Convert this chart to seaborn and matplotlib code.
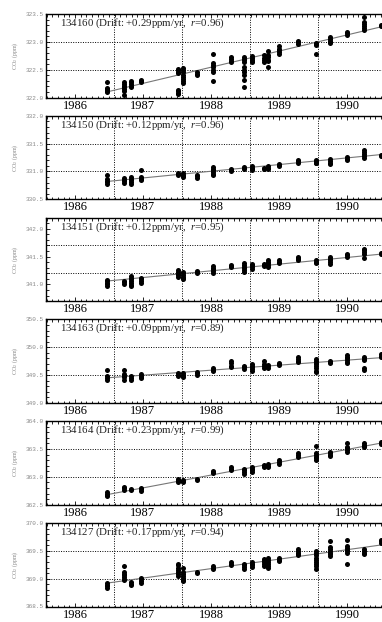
import numpy as np
import pandas as pd
import matplotlib
matplotlib.use("Agg")
import matplotlib.pyplot as plt
from matplotlib.ticker import MultipleLocator, FixedLocator, FormatStrFormatter
import seaborn as sns

sns.set_theme(style="ticks")
plt.rcParams['font.family'] = ['Liberation Serif', 'DejaVu Serif']
plt.rcParams['mathtext.fontset'] = 'custom'
plt.rcParams['mathtext.rm'] = 'Liberation Serif'
plt.rcParams['mathtext.it'] = 'Liberation Serif:italic'

# Sampling dates (decimal years), shared by all cylinders
sample_dates = [1986.47, 1986.72, 1986.82, 1986.97, 1987.52, 1987.59, 1987.80,
                1988.03, 1988.30, 1988.49, 1988.60, 1988.78, 1988.84, 1989.00,
                1989.28, 1989.55, 1989.75, 1990.00, 1990.25, 1990.50]
year_ticks = [1986, 1987, 1988, 1989, 1990]

cylinders = ["134160", "134150", "134151", "134163", "134164", "134127"]
drift = [0.29, 0.12, 0.12, 0.09, 0.23, 0.17]
corr_r = [0.96, 0.96, 0.95, 0.89, 0.99, 0.94]
fit_start = [322.10, 330.82, 341.06, 349.45, 362.68, 368.92]
y_lower = [322.0, 330.5, 340.7, 349.0, 362.5, 368.5]

co2_134160 = [
    [322.27, 322.17, 322.15, 322.13, 322.11, 322.09],
    [322.28, 322.24, 322.21, 322.18, 322.15, 322.12, 322.05],
    [322.30, 322.27, 322.24, 322.21, 322.18],
    [322.32, 322.30, 322.28],
    [322.52, 322.49, 322.46, 322.44, 322.14, 322.11, 322.08, 322.06],
    [322.53, 322.49, 322.45, 322.41, 322.37, 322.33, 322.29, 322.26],
    [322.45, 322.42, 322.40],
    [322.78, 322.62, 322.58, 322.54, 322.50, 322.46, 322.29],
    [322.72, 322.69, 322.66, 322.63],
    [322.73, 322.70, 322.67, 322.63, 322.55, 322.50, 322.46, 322.41, 322.31, 322.19],
    [322.74, 322.71, 322.68, 322.65, 322.63],
    [322.76, 322.71, 322.67, 322.64],
    [322.83, 322.76, 322.72, 322.68, 322.65, 322.55],
    [322.92, 322.88, 322.85, 322.82, 322.79],
    [323.02, 322.99, 322.96],
    [322.98, 322.96, 322.94, 322.79],
    [323.08, 323.05, 323.02, 323.00, 322.98],
    [323.17, 323.15, 323.13],
    [323.45, 323.36, 323.32, 323.28, 323.25, 323.21],
    [323.30, 323.28],
]
co2_134150 = [
    [330.94, 330.86, 330.83, 330.81, 330.78],
    [330.88, 330.85, 330.82, 330.80],
    [330.90, 330.87, 330.84, 330.81, 330.78],
    [331.02, 330.90, 330.87, 330.85],
    [330.98, 330.96, 330.94],
    [330.97, 330.94, 330.92, 330.90],
    [330.94, 330.91, 330.88],
    [331.08, 331.05, 331.02, 330.99, 330.96, 330.93],
    [331.05, 331.03, 331.00],
    [331.08, 331.06, 331.04],
    [331.10, 331.07, 331.05, 331.03],
    [331.06, 331.04],
    [331.10, 331.07, 331.04],
    [331.14, 331.12, 331.10],
    [331.21, 331.18, 331.16],
    [331.20, 331.18, 331.16, 331.15],
    [331.22, 331.19, 331.16, 331.13],
    [331.26, 331.23, 331.20],
    [331.38, 331.35, 331.32, 331.27, 331.25],
    [331.30, 331.27],
]
co2_134151 = [
    [341.08, 341.06, 341.03, 341.00, 340.98],
    [341.07, 341.04, 341.01],
    [341.15, 341.12, 341.09, 341.06, 341.03, 340.99, 340.97],
    [341.12, 341.09, 341.06, 341.03],
    [341.25, 341.22, 341.19, 341.16, 341.14],
    [341.23, 341.20, 341.17, 341.14, 341.11, 341.09],
    [341.24, 341.22, 341.20],
    [341.33, 341.30, 341.27, 341.24, 341.21],
    [341.35, 341.33, 341.31],
    [341.38, 341.35, 341.32, 341.29, 341.26, 341.22],
    [341.37, 341.34, 341.31, 341.28],
    [341.37, 341.35, 341.33],
    [341.44, 341.41, 341.38, 341.35, 341.31],
    [341.43, 341.41, 341.39],
    [341.50, 341.47, 341.45, 341.43],
    [341.44, 341.41, 341.38],
    [341.49, 341.46, 341.43, 341.40, 341.37],
    [341.55, 341.52, 341.49],
    [341.64, 341.61, 341.58, 341.55, 341.47],
    [341.57, 341.54],
]
co2_134163 = [
    [349.60, 349.48, 349.45, 349.42],
    [349.60, 349.52, 349.49, 349.46, 349.42],
    [349.48, 349.45, 349.42],
    [349.52, 349.49, 349.46, 349.44],
    [349.53, 349.51, 349.49],
    [349.54, 349.51, 349.48, 349.46],
    [349.56, 349.53, 349.51],
    [349.63, 349.60, 349.57],
    [349.75, 349.72, 349.67, 349.65],
    [349.67, 349.64, 349.61],
    [349.70, 349.67, 349.64, 349.61, 349.58],
    [349.75, 349.70, 349.66, 349.63],
    [349.68, 349.66, 349.63],
    [349.72, 349.70, 349.68],
    [349.82, 349.79, 349.76, 349.74],
    [349.78, 349.75, 349.72, 349.69, 349.66, 349.62, 349.58, 349.55],
    [349.75, 349.73, 349.71],
    [349.86, 349.83, 349.80, 349.77, 349.74, 349.72],
    [349.82, 349.79, 349.77, 349.62, 349.59],
    [349.88, 349.85, 349.82],
]
co2_134164 = [
    [362.72, 362.70, 362.68, 362.65],
    [362.82, 362.80, 362.77],
    [362.78, 362.76],
    [362.80, 362.78, 362.75],
    [362.97, 362.95, 362.93, 362.91],
    [362.95, 362.92, 362.90],
    [362.96, 362.94],
    [363.11, 363.09, 363.07],
    [363.17, 363.15, 363.13],
    [363.15, 363.12, 363.09, 363.06],
    [363.18, 363.15, 363.12, 363.09],
    [363.22, 363.20, 363.17],
    [363.23, 363.20, 363.18],
    [363.30, 363.27, 363.24],
    [363.42, 363.39, 363.36],
    [363.55, 363.42, 363.39, 363.36, 363.33, 363.31],
    [363.44, 363.42, 363.40, 363.38],
    [363.60, 363.54, 363.51, 363.48, 363.45],
    [363.60, 363.58, 363.56, 363.53],
    [363.62, 363.59],
]
co2_134127 = [
    [368.92, 368.89, 368.86, 368.84],
    [369.23, 369.12, 369.09, 369.06, 369.03, 369.00, 368.98],
    [368.94, 368.91, 368.89],
    [369.02, 368.99, 368.96, 368.93],
    [369.27, 369.24, 369.20, 369.16, 369.12, 369.08, 369.05],
    [369.20, 369.12, 369.09, 369.05, 369.01, 368.98, 368.95],
    [369.12, 369.10],
    [369.23, 369.20, 369.17],
    [369.30, 369.27, 369.24],
    [369.27, 369.24, 369.21, 369.18],
    [369.30, 369.27, 369.24, 369.21],
    [369.36, 369.33, 369.30, 369.27, 369.23],
    [369.38, 369.34, 369.30, 369.26, 369.22, 369.19],
    [369.37, 369.34, 369.31],
    [369.53, 369.50, 369.47, 369.44, 369.42],
    [369.50, 369.46, 369.42, 369.38, 369.34, 369.30, 369.26, 369.22, 369.18],
    [369.68, 369.56, 369.53, 369.50, 369.47, 369.44, 369.41],
    [369.70, 369.58, 369.55, 369.52, 369.49, 369.46, 369.26],
    [369.53, 369.50, 369.47, 369.44],
    [369.70, 369.67, 369.64],
]
measurements = [co2_134160, co2_134150, co2_134151, co2_134163, co2_134164, co2_134127]

# Figure geometry (pixels at 100 dpi)
W, H = 382, 622
fig = plt.figure(figsize=(W / 100, H / 100), dpi=100)
ax_left_px, ax_right_px = 46, 415
panel_h_px = 83.5
panel_tops_px = [14, 115.8, 217.6, 319.4, 421.2, 523]

x_start = 1985.574          # left edge of the time axis
x_end = x_start + (ax_right_px - ax_left_px) / 68.0

for i, (cyl, vals) in enumerate(zip(cylinders, measurements)):
    top = panel_tops_px[i]
    ax = fig.add_axes([ax_left_px / W, 1 - (top + panel_h_px) / H,
                       (ax_right_px - ax_left_px) / W, panel_h_px / H])
    df = pd.DataFrame({
        "date": [d for d, grp in zip(sample_dates, vals) for _ in grp],
        "co2": [v for grp in vals for v in grp],
    })
    sns.scatterplot(data=df, x="date", y="co2", ax=ax, color="black",
                    s=13, linewidth=0, zorder=3, legend=False)

    fit_x = np.array([sample_dates[0], x_end])
    fit_y = fit_start[i] + drift[i] * (fit_x - sample_dates[0])
    sns.lineplot(x=fit_x, y=fit_y, ax=ax, color="#777777", lw=0.8, zorder=2)

    lo = y_lower[i]
    ax.set_ylim(lo, lo + 1.5)
    ax.set_xlim(x_start, x_end)

    # dotted grid: horizontal at inner major ticks, vertical once per year
    for yv in (lo + 0.5, lo + 1.0):
        ax.axhline(yv, color="black", ls=(0, (1, 1.5)), lw=0.7, zorder=1)
    for k in range(1, 6):
        ax.axvline(x_start + k, color="black", ls=(0, (1, 1.5)), lw=0.7, zorder=1)

    ax.xaxis.set_major_locator(FixedLocator(year_ticks))
    ax.xaxis.set_minor_locator(MultipleLocator(1 / 12))
    ax.xaxis.set_major_formatter(FormatStrFormatter("%d"))
    ax.yaxis.set_major_locator(MultipleLocator(0.5))
    ax.yaxis.set_minor_locator(MultipleLocator(0.1))
    ax.yaxis.set_major_formatter(FormatStrFormatter("%.1f"))

    ax.tick_params(axis="both", which="both", direction="in", top=True,
                   right=True, color="black", width=0.6)
    ax.tick_params(axis="both", which="major", length=3)
    ax.tick_params(axis="both", which="minor", length=1.8)
    ax.tick_params(axis="x", which="major", labelsize=9, pad=1.5,
                   labelcolor="black")
    ax.tick_params(axis="y", which="major", labelsize=4.3, pad=1.5,
                   labelcolor="#8a8a8a")
    for lab in ax.get_yticklabels():
        lab.set_family("Liberation Mono")
    for sp in ax.spines.values():
        sp.set_linewidth(1.0)
        sp.set_color("black")

    ax.set_xlabel("")
    ax.set_ylabel("CO$_2$ (ppm)", fontsize=4.3, color="#8a8a8a", labelpad=4)

    ax.text(14 / (ax_right_px - ax_left_px), 1 - 2.5 / panel_h_px,
            f"{cyl} (Drift: +{drift[i]:.2f}ppm/yr,  $r$={corr_r[i]:.2f})",
            transform=ax.transAxes, ha="left", va="top", fontsize=7.8,
            color="#222222")

fig.savefig("out.png", dpi=100)
